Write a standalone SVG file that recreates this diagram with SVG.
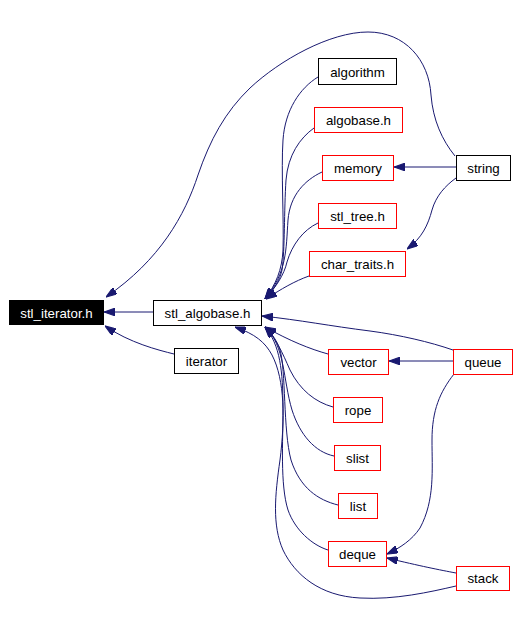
<svg xmlns="http://www.w3.org/2000/svg" width="519" height="623" viewBox="0 0 519 623">
<defs>
<marker id="ah" viewBox="0 0 10 7" refX="10" refY="3.5" markerWidth="11" markerHeight="7.7" markerUnits="userSpaceOnUse" orient="auto">
<path d="M0,0 L10,3.5 L0,7 z" fill="#191970" stroke="#191970" stroke-width="1"/>
</marker>
</defs>
<style>
.e{fill:none;stroke:#191970;stroke-width:1;marker-end:url(#ah)}
.n rect{fill:#ffffff;stroke:#000000;stroke-width:1}
.r rect{stroke:#ff0000}
text{font-family:"Liberation Sans",Arial,Helvetica,sans-serif;font-size:13.3px;text-anchor:middle;fill:#000000}
</style>
<rect width="519" height="623" fill="#ffffff"/>
<g id="edges">
<path class="e" d="M153,312 L104,312"/>
<path class="e" d="M174,354 C158,350 130,343 105,326"/>
<path class="e" d="M455,156 C442,140 433,120 431,95 C429,60 405,32 368,32 C330,32 280,60 250,88 C225,112 210,140 198,175 C185,215 160,260 106,297"/>
<path class="e" d="M318,77 C300,88 285,110 283,140 C281,170 284,220 283,250 C282,270 276,284 265,299"/>
<path class="e" d="M314,128 C300,138 288,155 286,180 C284,210 285,250 282,270 C280,280 274,289 265,299"/>
<path class="e" d="M322,172 C305,180 290,195 288,220 C286,250 287,272 265,299"/>
<path class="e" d="M318,223 C303,230 292,245 287,262 C284,275 276,287 265,299"/>
<path class="e" d="M309,276 C295,281 281,289 266,299"/>
<path class="e" d="M456,167 L394,167"/>
<path class="e" d="M456,178 C445,186 436,196 432,210 C428,225 422,238 407,249"/>
<path class="e" d="M453,350 C430,342 400,335 370,331 C330,326 300,320 262,316"/>
<path class="e" d="M328,354 C310,349 290,341 265,327"/>
<path class="e" d="M333,407 C315,402 300,390 290,370 C282,352 276,338 265,327"/>
<path class="e" d="M334,456 C315,452 300,435 292,410 C283,380 285,345 265,327"/>
<path class="e" d="M338,505 C318,500 300,488 291,460 C283,430 286,370 280,350 C276,338 270,332 265,327"/>
<path class="e" d="M328,550 C312,545 295,530 288,510 C280,485 283,440 283,410 C283,370 280,345 265,327"/>
<path class="e" d="M456,586 C430,592 395,600 360,598 C320,596 295,575 283,550 C272,525 275,495 280,460 C285,420 285,380 272,355 C265,342 255,334 235,327"/>
<path class="e" d="M453,361 L389,361"/>
<path class="e" d="M454,374 C440,392 432,410 432,440 C432,470 435,500 420,528 C412,540 400,548 387,554"/>
<path class="e" d="M456,573 C440,570 420,566 387,558"/>
</g>
<g transform="translate(0.5,0.5)">
<g id="stl_iterator"><rect x="9" y="300" width="94" height="24" fill="#000000" stroke="#000000"/><text x="56" y="317" fill="#ffffff" style="fill:#ffffff">stl_iterator.h</text></g>
<g id="stl_algobase" class="n"><rect x="153" y="300" width="108" height="25"/><text x="207" y="317">stl_algobase.h</text></g>
<g id="iterator" class="n"><rect x="174" y="348" width="64" height="25"/><text x="206" y="365">iterator</text></g>
<g id="algorithm" class="n"><rect x="318" y="58" width="78" height="26"/><text x="357" y="76">algorithm</text></g>
<g id="algobase" class="n r"><rect x="314" y="107" width="88" height="25"/><text x="358" y="124">algobase.h</text></g>
<g id="memory" class="n r"><rect x="322" y="155" width="71" height="25"/><text x="357.5" y="172">memory</text></g>
<g id="string" class="n"><rect x="456" y="155" width="54" height="25"/><text x="483" y="172">string</text></g>
<g id="stl_tree" class="n r"><rect x="318" y="203" width="78" height="25"/><text x="357" y="220">stl_tree.h</text></g>
<g id="char_traits" class="n r"><rect x="309" y="251" width="96" height="25"/><text x="357" y="268">char_traits.h</text></g>
<g id="vector" class="n r"><rect x="328" y="349" width="60" height="25"/><text x="358" y="366">vector</text></g>
<g id="queue" class="n r"><rect x="453" y="349" width="59" height="25"/><text x="482.5" y="366">queue</text></g>
<g id="rope" class="n r"><rect x="333" y="397" width="49" height="25"/><text x="357.5" y="414">rope</text></g>
<g id="slist" class="n r"><rect x="334" y="445" width="46" height="25"/><text x="357" y="462">slist</text></g>
<g id="list" class="n r"><rect x="338" y="493" width="39" height="25"/><text x="357.5" y="510">list</text></g>
<g id="deque" class="n r"><rect x="328" y="541" width="58" height="25"/><text x="357" y="558">deque</text></g>
<g id="stack" class="n r"><rect x="456" y="566" width="53" height="24"/><text x="482.5" y="582.5">stack</text></g>
</g>
</svg>
